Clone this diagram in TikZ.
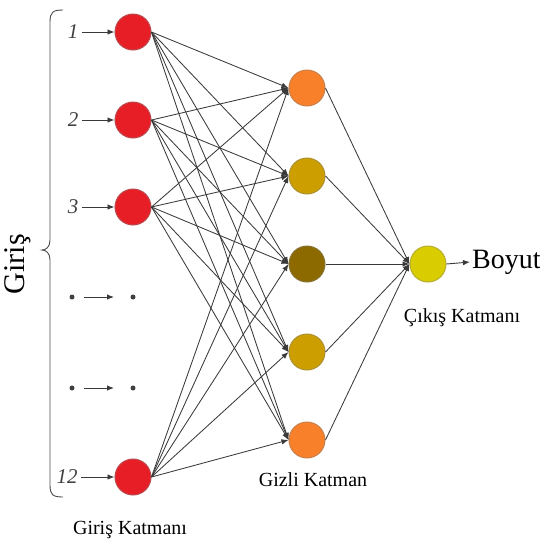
\documentclass[tikz,border=0pt]{standalone}
\usepackage{fontspec}
\setmainfont{Liberation Serif}
\usetikzlibrary{arrows.meta}
\definecolor{inred}{HTML}{E81E26}
\definecolor{hidorange}{HTML}{F8802A}
\definecolor{hidgold}{HTML}{CC9E00}
\definecolor{hiddark}{HTML}{8C6A00}
\definecolor{outyellow}{HTML}{D9CC00}
\definecolor{edge}{HTML}{3A3A3A}
\tikzset{
  x=1pt, y=-1pt,
  neuron/.style={circle, minimum size=36pt, inner sep=0pt, draw=#1, line width=1pt},
  inneuron/.style={neuron=inred!55!gray, fill=inred},
  link/.style={draw=edge, line width=0.85pt, -{Latex[length=7pt,width=5.5pt]}},
  feed/.style={draw=edge, line width=0.9pt, -{Latex[length=7pt,width=5.5pt]}},
  idx/.style={font=\itshape\fontsize{21}{21}\selectfont, text=black!75},
  caption/.style={font=\fontsize{20}{20}\selectfont},
  bigdot/.style={circle, fill=black!75, minimum size=5pt, inner sep=0pt}
}
\begin{document}
\begin{tikzpicture}
\useasboundingbox (0,0) rectangle (540,547);

% input layer
\node[inneuron] (i1) at (133,32) {};
\node[inneuron] (i2) at (133,120) {};
\node[inneuron] (i3) at (133,207) {};
\node[inneuron] (i12) at (133,477) {};

% hidden layer
\node[neuron=hidorange!60!gray, fill=hidorange] (h1) at (307,88) {};
\node[neuron=hidgold!60!gray, fill=hidgold] (h2) at (307,176) {};
\node[neuron=hiddark!60!gray, fill=hiddark] (h3) at (307,264) {};
\node[neuron=hidgold!60!gray, fill=hidgold] (h4) at (307,352) {};
\node[neuron=hidorange!60!gray, fill=hidorange] (h5) at (307,440) {};

% output layer
\node[neuron=outyellow!60!gray, fill=outyellow] (o) at (428,264) {};

% input indices with their arrows
\node[idx] (l1) at (73,32) {1};
\node[idx] (l2) at (73,120) {2};
\node[idx] (l3) at (73,207) {3};
\node[idx] (l12) at (67,477) {12};
\foreach \k in {1,2,3,12} \draw[feed] (l\k.east) -- (i\k.west);

% elided rows
\foreach \r/\yy in {a/297, b/388} {
  \node[bigdot] (d\r1) at (72,\yy) {};
  \node[bigdot] (d\r2) at (133,\yy) {};
  \draw[feed] ([xshift=12pt]d\r1.center) -- ([xshift=-19pt]d\r2.center);
}

% input -> hidden connections
\foreach \i in {1,2,3,12}
  \foreach \h in {1,...,5}
    \draw[link] (i\i.east) -- (h\h.west);

% hidden -> output connections
\foreach \h in {1,...,5}
  \draw[link] (h\h.east) -- (o.west);

% output arrow
\node[font=\fontsize{28}{28}\selectfont, anchor=west, inner sep=2pt] (boyut) at (470,262) {Boyut};
\draw[feed] (o.east) -- (boyut.west);

% brace grouping the inputs
\draw[draw=black!70, line width=0.9pt]
  (63,10) .. controls (53,10) and (50,12) .. (50,22)
  -- (50,240) .. controls (50,247) and (46,250) .. (42,250)
  .. controls (46,250) and (50,253) .. (50,260)
  -- (50,485) .. controls (50,495) and (53,497) .. (63,497);
\node[rotate=90, font=\fontsize{30}{30}\selectfont] (giris) at (18,264) {Giriş};

% layer captions
\node[caption] (capin) at (130,530) {Giriş Katmanı};
\node[caption] (caphid) at (313,480) {Gizli Katman};
\node[caption] (capout) at (462,318) {Çıkış Katmanı};
\end{tikzpicture}
\end{document}
